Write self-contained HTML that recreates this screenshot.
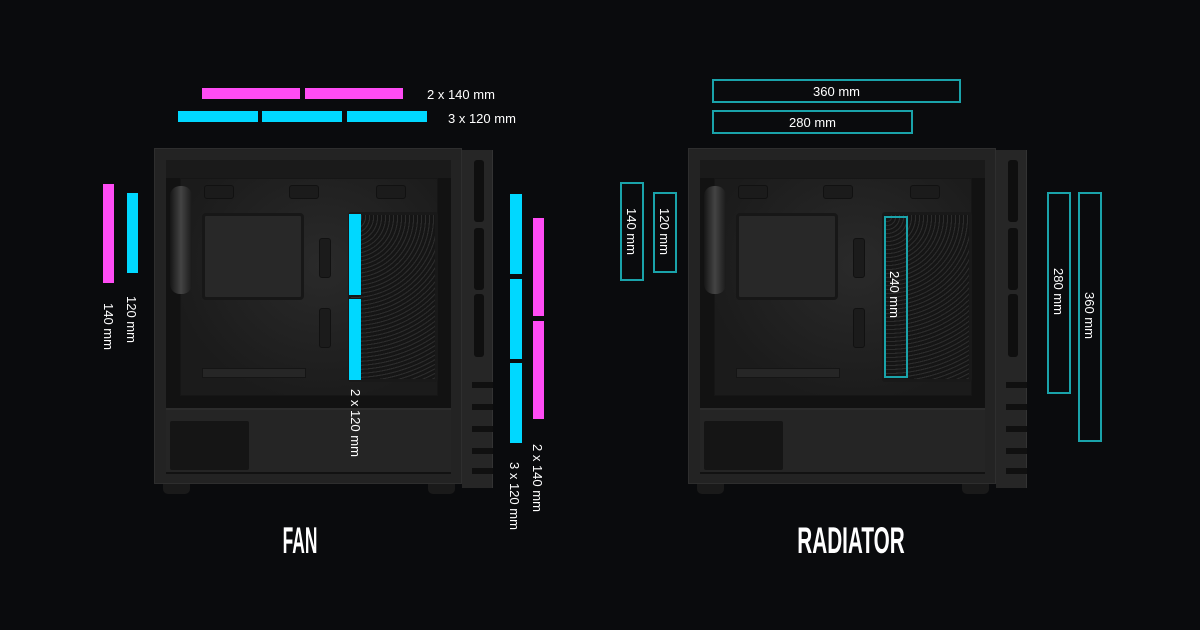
<!DOCTYPE html>
<html><head><meta charset="utf-8">
<style>
*{margin:0;padding:0;box-sizing:border-box}
body{width:1200px;height:630px;background:#0a0b0d;position:relative;overflow:hidden;font-family:"Liberation Sans",sans-serif}
.a{position:absolute}
.case{position:absolute;width:345px;height:345px}
.frame{left:0;top:0;width:308px;height:336px;background:#232323;border:1px solid #2e2e2e}
.inner{left:12px;top:12px;width:285px;height:314px;background:#121212}
.topband{left:12px;top:12px;width:285px;height:18px;background:#1a1a1a}
.tray{left:26px;top:30px;width:258px;height:218px;background:radial-gradient(ellipse at 55% 40%,#2a2a2a,#1b1b1b 75%);border:1px solid #161616}
.mb{left:48px;top:65px;width:102px;height:87px;background:#282828;border:3px solid #171717;border-radius:4px}
.cage{left:194px;top:64px;width:90px;height:170px;background:repeating-radial-gradient(circle at 2px 2px,#2c2c2c 0 1px,#151515 1.2px 4px);border:3px solid #191919;border-radius:3px}
.bar{left:48px;top:220px;width:104px;height:10px;background:#262626;border:1px solid #151515}
.hole{background:#1b1b1b;border:1px solid #111;border-radius:3px}
.shroud{left:12px;top:260px;width:285px;height:64px;background:#252525;border-top:2px solid #2c2c2c}
.psu{left:16px;top:273px;width:79px;height:49px;background:#151515;border-radius:2px}
.fp{left:308px;top:2px;width:31px;height:338px;background:#262626;border-right:1px solid #333}
.vent{left:12px;width:10px;background:#0f0f0f;border-radius:3px}
.fin{left:10px;width:21px;height:6px;background:#101010}
.foot{top:336px;width:27px;height:10px;background:#1a1a1a;border-radius:0 0 5px 5px}
.fan{left:16px;top:38px;width:22px;height:108px;background:linear-gradient(90deg,#161616,#444 50%,#1a1a1a);border-radius:10px}
.c{background:#00d8ff}
.m{background:#ff4cf4}
.t{border:2px solid #1aa3aa}
.lbl{color:#fff;font-size:13px;white-space:nowrap}
.rot{transform-origin:0 0;transform:rotate(90deg)}
.title{color:#fff;font-family:"Liberation Sans Narrow","Liberation Sans",sans-serif;font-weight:bold;font-size:37px;transform-origin:center;text-align:center;width:300px}
.ctr{display:flex;align-items:center;justify-content:center}
</style></head><body>

<div class="case" style="left:154px;top:148px">
 <div class="a frame"></div><div class="a inner"></div><div class="a topband"></div>
 <div class="a tray"></div>
 <div class="a hole" style="left:50px;top:37px;width:30px;height:14px"></div>
 <div class="a hole" style="left:135px;top:37px;width:30px;height:14px"></div>
 <div class="a hole" style="left:222px;top:37px;width:30px;height:14px"></div>
 <div class="a mb"></div>
 <div class="a hole" style="left:165px;top:90px;width:12px;height:40px"></div>
 <div class="a hole" style="left:165px;top:160px;width:12px;height:40px"></div>
 <div class="a bar"></div>
 <div class="a cage"></div>
 <div class="a fan"></div>
 <div class="a shroud"></div><div class="a psu"></div>
 <div class="a fp">
  <div class="a vent" style="top:10px;height:62px"></div>
  <div class="a vent" style="top:78px;height:62px"></div>
  <div class="a vent" style="top:144px;height:63px"></div>
  <div class="a fin" style="top:232px"></div><div class="a fin" style="top:254px"></div>
  <div class="a fin" style="top:276px"></div><div class="a fin" style="top:298px"></div>
  <div class="a fin" style="top:318px"></div>
 </div>
 <div class="a foot" style="left:9px"></div><div class="a foot" style="left:274px"></div>
</div>

<div class="case" style="left:688px;top:148px">
 <div class="a frame"></div><div class="a inner"></div><div class="a topband"></div>
 <div class="a tray"></div>
 <div class="a hole" style="left:50px;top:37px;width:30px;height:14px"></div>
 <div class="a hole" style="left:135px;top:37px;width:30px;height:14px"></div>
 <div class="a hole" style="left:222px;top:37px;width:30px;height:14px"></div>
 <div class="a mb"></div>
 <div class="a hole" style="left:165px;top:90px;width:12px;height:40px"></div>
 <div class="a hole" style="left:165px;top:160px;width:12px;height:40px"></div>
 <div class="a bar"></div>
 <div class="a cage"></div>
 <div class="a fan"></div>
 <div class="a shroud"></div><div class="a psu"></div>
 <div class="a fp">
  <div class="a vent" style="top:10px;height:62px"></div>
  <div class="a vent" style="top:78px;height:62px"></div>
  <div class="a vent" style="top:144px;height:63px"></div>
  <div class="a fin" style="top:232px"></div><div class="a fin" style="top:254px"></div>
  <div class="a fin" style="top:276px"></div><div class="a fin" style="top:298px"></div>
  <div class="a fin" style="top:318px"></div>
 </div>
 <div class="a foot" style="left:9px"></div><div class="a foot" style="left:274px"></div>
</div>

<div class="a m" style="left:202px;top:88px;width:98px;height:11px"></div>
<div class="a m" style="left:305px;top:88px;width:98px;height:11px"></div>
<div class="a lbl" style="left:427px;top:87px">2 x 140 mm</div>
<div class="a c" style="left:178px;top:111px;width:80px;height:11px"></div>
<div class="a c" style="left:262px;top:111px;width:80px;height:11px"></div>
<div class="a c" style="left:347px;top:111px;width:80px;height:11px"></div>
<div class="a lbl" style="left:448px;top:111px">3 x 120 mm</div>

<div class="a m" style="left:103px;top:184px;width:11px;height:99px"></div>
<div class="a c" style="left:127px;top:193px;width:11px;height:80px"></div>
<div class="a lbl rot" style="left:139px;top:296px">120 mm</div>
<div class="a lbl rot" style="left:116px;top:303px">140 mm</div>

<div class="a c" style="left:349px;top:214px;width:12px;height:81px"></div>
<div class="a c" style="left:349px;top:299px;width:12px;height:81px"></div>
<div class="a lbl rot" style="left:363px;top:389px">2 x 120 mm</div>

<div class="a c" style="left:510px;top:194px;width:12px;height:80px"></div>
<div class="a c" style="left:510px;top:279px;width:12px;height:80px"></div>
<div class="a c" style="left:510px;top:363px;width:12px;height:80px"></div>
<div class="a m" style="left:533px;top:218px;width:11px;height:98px"></div>
<div class="a m" style="left:533px;top:321px;width:11px;height:98px"></div>
<div class="a lbl rot" style="left:522px;top:462px">3 x 120 mm</div>
<div class="a lbl rot" style="left:545px;top:444px">2 x 140 mm</div>

<div class="a title" style="left:150px;top:520px;transform:scaleX(.47)">FAN</div>

<div class="a t lbl ctr" style="left:712px;top:79px;width:249px;height:24px">360 mm</div>
<div class="a t lbl ctr" style="left:712px;top:110px;width:201px;height:24px">280 mm</div>
<div class="a t" style="left:620px;top:182px;width:24px;height:99px"></div>
<div class="a lbl rot" style="left:639px;top:208px">140 mm</div>
<div class="a t" style="left:653px;top:192px;width:24px;height:81px"></div>
<div class="a lbl rot" style="left:672px;top:208px">120 mm</div>
<div class="a t" style="left:884px;top:216px;width:24px;height:162px"></div>
<div class="a lbl rot" style="left:902px;top:271px">240 mm</div>
<div class="a t" style="left:1047px;top:192px;width:24px;height:202px"></div>
<div class="a lbl rot" style="left:1066px;top:268px">280 mm</div>
<div class="a t" style="left:1078px;top:192px;width:24px;height:250px"></div>
<div class="a lbl rot" style="left:1097px;top:292px">360 mm</div>

<div class="a title" style="left:701px;top:520px;transform:scaleX(.56)">RADIATOR</div>
</body></html>
